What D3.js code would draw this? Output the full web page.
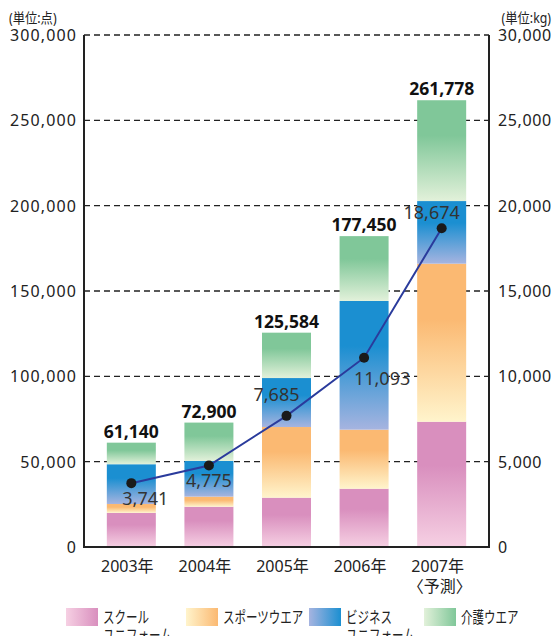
<!DOCTYPE html>
<html>
<head>
<meta charset="utf-8">
<style>
    body { margin: 0; background: #fff; }
    svg { display: block; font-family: 'Noto Sans', 'Noto Sans CJK JP', sans-serif; }
</style>
</head>
<body>
<svg width="556" height="636"></svg>
<script src="https://d3js.org/d3.v7.min.js"></script>
<script>
    // values
    const years = ["2003年", "2004年", "2005年", "2006年", "2007年"]
    const school = [20000, 23600, 28900, 34150, 73400]
    const sports = [5200, 5900, 41400, 34600, 92600]
    const business = [23300, 20900, 28700, 75400, 36700]
    const care = [12640, 22500, 26584, 38000, 59078]
    const totals = [61140, 72900, 125584, 177450, 261778]
    const kg = [3741, 4775, 7685, 11093, 18674]
    const leftTicks = [0, 50000, 100000, 150000, 200000, 250000, 300000]
    const rightTicks = [0, 5000, 10000, 15000, 20000, 25000, 30000]
    const seriesNames = ["スクール\nユニフォーム", "スポーツウエア", "ビジネス\nユニフォーム", "介護ウエア"]

    const colors = [
        { id: "pink", dark: "#d98fbe", light: "#f6d0e3" },
        { id: "orange", dark: "#fbb972", light: "#fff4cc" },
        { id: "blue", dark: "#1b8fd1", light: "#a6b4e0" },
        { id: "green", dark: "#80c799", light: "#e2f1da" }
    ]

    let svg = d3.select("svg")
    let plotLeft = 84, plotRight = 489, plotTop = 35, plotBottom = 547

    let x = d3.scalePoint().domain(years).range([plotLeft, plotRight]).padding(0.61)
    let bw = 49
    let y = d3.scaleLinear().domain([0, 300000]).range([plotBottom, plotTop])
    let y2 = d3.scaleLinear().domain([0, 30000]).range([plotBottom, plotTop])

    // gradients
    let defs = svg.append("defs")
    colors.forEach(c => {
        let g = defs.append("linearGradient").attr("id", "v-" + c.id)
            .attr("x1", 0).attr("y1", 0).attr("x2", 0).attr("y2", 1)
        g.append("stop").attr("offset", 0).attr("stop-color", c.dark)
        g.append("stop").attr("offset", 0.35).attr("stop-color", c.dark)
        g.append("stop").attr("offset", 1).attr("stop-color", c.light)
        let h = defs.append("linearGradient").attr("id", "h-" + c.id)
            .attr("x1", 0).attr("y1", 0).attr("x2", 1).attr("y2", 0)
        h.append("stop").attr("offset", 0).attr("stop-color", c.light)
        h.append("stop").attr("offset", 1).attr("stop-color", c.dark)
    })

    // gridlines
    svg.append("g")
        .selectAll("line")
        .data(leftTicks.filter(d => d > 0))
        .join("line")
        .attr("x1", plotLeft).attr("x2", plotRight)
        .attr("y1", d => y(d)).attr("y2", d => y(d))
        .style("stroke", "#222")
        .style("stroke-width", 1.3)
        .style("stroke-dasharray", "6,4")

    // stacked bars
    let table = years.map((yr, i) => ({ year: yr, s0: school[i], s1: sports[i], s2: business[i], s3: care[i] }))
    let stack = d3.stack().keys(["s0", "s1", "s2", "s3"])(table)

    svg.append("g")
        .selectAll("g")
        .data(stack)
        .join("g")
        .attr("fill", (d, i) => `url(#v-${colors[i].id})`)
        .selectAll("rect")
        .data(d => d)
        .join("rect")
        .attr("x", d => x(d.data.year) - bw / 2)
        .attr("width", bw)
        .attr("y", d => y(d[1]))
        .attr("height", d => y(d[0]) - y(d[1]))

    // total labels
    svg.append("g")
        .selectAll("text")
        .data(years)
        .join("text")
        .attr("x", d => x(d))
        .attr("y", (d, i) => y(d3.sum([school[i], sports[i], business[i], care[i]])) - 5)
        .attr("text-anchor", "middle")
        .style("font-size", "17.5px")
        .style("font-weight", "bold")
        .style("fill", "#111")
        .text((d, i) => d3.format(",")(totals[i]))

    // axes frame
    svg.append("path")
        .attr("d", `M${plotLeft},${plotTop}V${plotBottom}H${plotRight}V${plotTop}`)
        .style("stroke", "#222").style("stroke-width", 2).style("fill", "none")

    // tick labels
    svg.append("g")
        .selectAll("text")
        .data(leftTicks)
        .join("text")
        .attr("x", plotLeft - 7)
        .attr("y", d => y(d) + 6)
        .attr("text-anchor", "end")
        .style("font-size", "16px")
        .style("letter-spacing", "1.1px")
        .style("fill", "#222")
        .text(d => d3.format(",")(d))

    svg.append("g")
        .selectAll("text")
        .data(rightTicks)
        .join("text")
        .attr("x", plotRight + 9)
        .attr("y", d => y2(d) + 6)
        .style("font-size", "16px")
        .style("letter-spacing", "0.6px")
        .style("fill", "#222")
        .text(d => d3.format(",")(d))

    // unit labels, condensed like the original typeface
    svg.append("text").attr("transform", "translate(9,23) scale(0.88,1)")
        .style("font-size", "14px").style("fill", "#222").text("(単位:点)")
    svg.append("text").attr("transform", "translate(551,23) scale(0.88,1)").attr("text-anchor", "end")
        .style("font-size", "14px").style("fill", "#222").text("(単位:kg)")

    // year labels
    svg.append("g")
        .selectAll("text")
        .data(years)
        .join("text")
        .attr("x", d => x(d) - 4)
        .attr("y", 572)
        .attr("text-anchor", "middle")
        .style("font-size", "16px")
        .style("fill", "#222")
        .text(d => d)
    svg.append("text").attr("x", x("2007年") - 2).attr("y", 592).attr("text-anchor", "middle")
        .style("font-size", "16px").style("fill", "#222").text("〈予測〉")

    // kg line
    let line = d3.line().x((d, i) => x(years[i])).y(d => y2(d))
    svg.append("path")
        .datum(kg)
        .attr("d", line)
        .style("fill", "none")
        .style("stroke", "#2a3b9c")
        .style("stroke-width", 2)

    svg.append("g")
        .selectAll("circle")
        .data(kg)
        .join("circle")
        .attr("cx", (d, i) => x(years[i]))
        .attr("cy", d => y2(d))
        .attr("r", 5)
        .style("fill", "#1a1a1a")

    let labelOffsets = [[14, 22], [0, 21], [-10, -15], [18, 27], [-10, -9]]
    svg.append("g")
        .selectAll("text")
        .data(kg)
        .join("text")
        .attr("x", (d, i) => x(years[i]) + labelOffsets[i][0])
        .attr("y", (d, i) => y2(d) + labelOffsets[i][1])
        .attr("text-anchor", "middle")
        .style("font-size", "18px")
        .style("fill", "#333")
        .text(d => d3.format(",")(d))

    // legend
    let legendX = [66, 186, 309, 424]
    let legend = svg.append("g")
        .selectAll("g")
        .data(seriesNames)
        .join("g")
        .attr("transform", (d, i) => `translate(${legendX[i]},608)`)
    legend.append("rect")
        .attr("width", 32).attr("height", 18)
        .attr("fill", (d, i) => `url(#h-${colors[i].id})`)
    legend.append("text")
        .attr("transform", "translate(37,15) scale(0.72,1)")
        .style("font-size", "16px")
        .style("fill", "#222")
        .selectAll("tspan")
        .data(d => d.split("\n"))
        .join("tspan")
        .attr("x", 0)
        .attr("dy", (d, i) => i ? 18 : 0)
        .text(d => d)
</script>
</body>
</html>
